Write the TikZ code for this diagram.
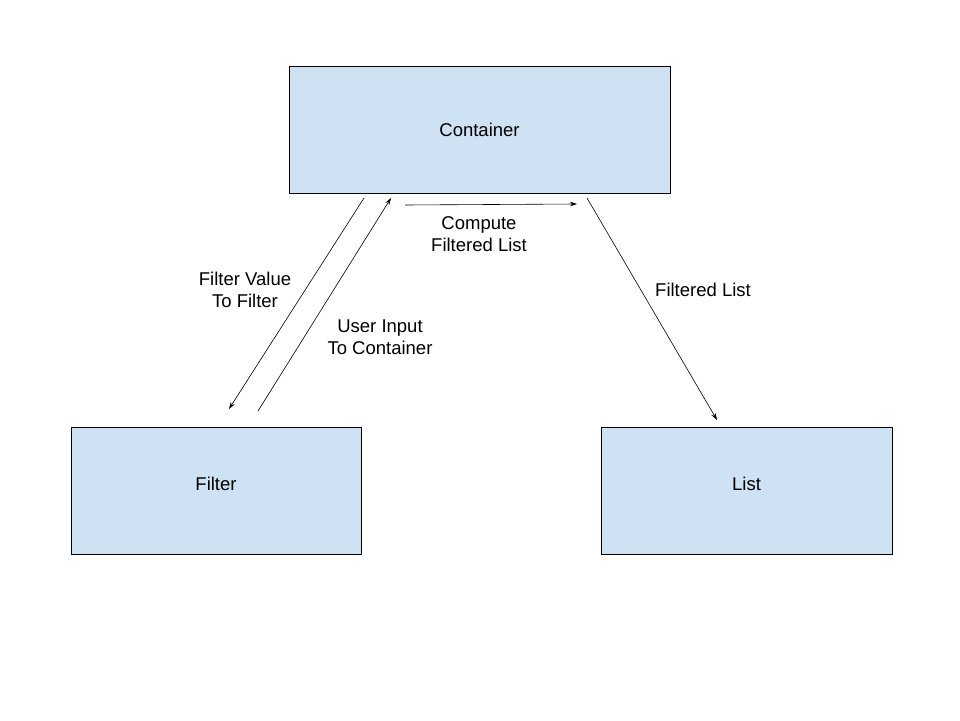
\documentclass[tikz,border=0pt]{standalone}
\usepackage{fontspec}
\setmainfont{Liberation Sans}
\usetikzlibrary{arrows.meta}
\definecolor{boxfill}{HTML}{CFE2F3}
\begin{document}
\begin{tikzpicture}[x=1pt,y=-1pt,
  box/.style={draw=black,fill=boxfill,line width=1pt},
  lbl/.style={font=\fontsize{18.5}{21.5}\selectfont,align=center,inner sep=0pt},
  conn/.style={line width=0.6pt,-{Stealth[length=7pt,width=4.5pt]}}]
\useasboundingbox (0,0) rectangle (960,720);
\draw[box] (289,66) rectangle (670,193);
\node[lbl] (container) at (479.5,129.5) {Container};
\draw[box] (71,427) rectangle (361,554);
\node[lbl] (filter) at (216,484) {Filter};
\draw[box] (601,427) rectangle (892,554);
\node[lbl] (list) at (746.5,484) {List};
\coordinate (a1) at (364,198); \coordinate (a2) at (229,409);
\coordinate (b1) at (258,411); \coordinate (b2) at (391,198);
\coordinate (c1) at (405,205); \coordinate (c2) at (577,204);
\coordinate (d1) at (587,198); \coordinate (d2) at (717,420);
\draw[conn] (a1) -- (a2);
\draw[conn] (b1) -- (b2);
\draw[conn] (c1) -- (c2);
\draw[conn] (d1) -- (d2);
\node[lbl] (l1) at (245,290) {Filter Value\\To Filter};
\node[lbl] (l2) at (380,337) {User Input\\To Container};
\node[lbl] (l3) at (479,234) {Compute\\Filtered List};
\node[lbl] (l4) at (703,290) {Filtered List};
\end{tikzpicture}
\end{document}
